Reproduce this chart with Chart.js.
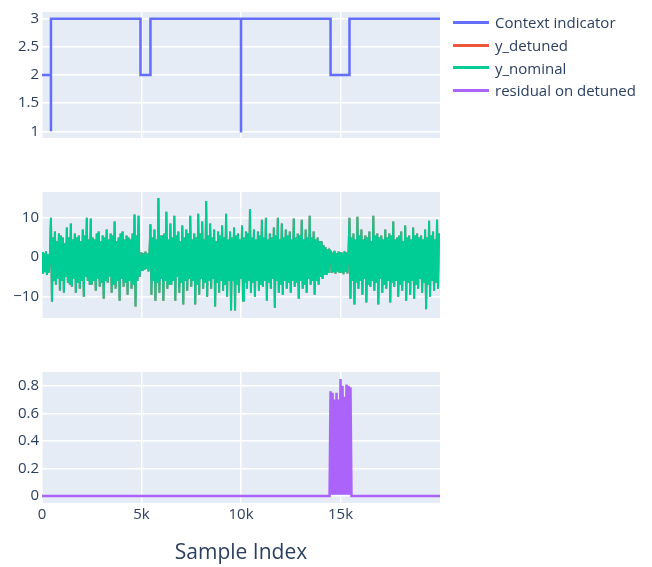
<!DOCTYPE html>
<html>
<head>
<meta charset="utf-8">
<script src="https://cdn.jsdelivr.net/npm/chart.js@4"></script>
<style>
  body { margin: 0; background: #fff; width: 652px; height: 567px; overflow: hidden; font-family: "Open Sans", sans-serif; }
  .panel { position: absolute; left: 0; }
  #legend { position: absolute; left: 453px; top: 11px; color: #2a3f5f; font-size: 15px; }
  .item { display: flex; align-items: center; height: 22.7px; }
  .swatch { width: 36px; height: 3px; margin-right: 6px; }
</style>
</head>
<body>
<canvas id="ctxChart" class="panel" style="top:0px" width="652" height="150"></canvas>
<canvas id="ychart" class="panel" style="top:180px" width="652" height="150"></canvas>
<canvas id="resChart" class="panel" style="top:360px" width="652" height="207"></canvas>
<div id="legend"></div>
<script>
// series names and colours
const seriesNames = ["Context indicator", "y_detuned", "y_nominal", "residual on detuned"];
const seriesColors = ["#636EFA", "#EF553B", "#00CC96", "#AB63FA"];

// x axis (sample index)
const xTicks = [0, 5000, 10000, 15000];
const xTickLabels = ["0", "5k", "10k", "15k"];
const xMax = 19999;

// context indicator, read at its change points
const contextX = [0, 449, 450, 451, 4949, 4950, 5449, 5450, 9999, 10000, 10001, 14499, 14500, 15449, 15450, 19999];
const contextY = [2, 2, 1, 3, 3, 2, 2, 3, 3, 1, 3, 3, 2, 2, 3, 3];
const contextTicks = [1, 1.5, 2, 2.5, 3];
const contextTickLabels = ["1", "1.5", "2", "2.5", "3"];

// y_nominal envelope, one value every 50 samples (peaks and troughs)
const nominalStep = 50;
const nominalY = [
  // 0 - 449 (quiet)
  1.3, -4.2, 1.0, -3.8, 1.5, -4.5, 0.8, -4.0, 1.2,
  // 450 - 4949
  10, -11.3, 5, -6, 6.5, -7, 4, -5.5, 6, -8.5,
  5.5, -6, 5, -9, 3.5, -5, 7.5, -6.5, 5, -7,
  8.5, -7.5, 4.5, -5.5, 6, -9, 5, -6.5, 5.5, -8,
  4, -6, 7, -10, 5.5, -5, 10, -6, 4.5, -7,
  9.8, -7, 5, -6, 4.5, -8.5, 6, -5.5, 6.5, -7.5,
  4, -6.5, 5.5, -10.5, 5, -6, 7, -6.5, 4.5, -5,
  6, -9, 5.5, -7, 9, -8, 4, -6, 5, -11,
  6, -5.5, 6.5, -7.5, 4.5, -6.5, 5.5, -9.5, 5, -6,
  4.5, -8, 6, -7, 10.8, -12.5, 5.5, -6, 10.5, -5,
  // 4950 - 5449 (quiet)
  -2.8, 1.2, -3.5, 1.0, -3.2, 1.4, -3.0, 0.9, -3.6, 1.1,
  // 5450 - 14499
  8.3, -9.5, 5, -6, 7, -11, 4.5, -6.5, 15, -9, 5.5, -5.5, 5.5, -11, 6, -6, 11.5, -8, 4.5, -7,
  8.5, -7, 5, -6, 10.5, -11, 5.5, -5, 6.5, -9, 4, -6.5, 8, -12, 5, -6, 7, -8.5, 6, -5.5,
  10.5, -7.5, 4.5, -6, 6, -12, 5, -7, 11, -9.5, 6, -5.5, 9, -8, 4.5, -6.5, 14.2, -10, 5.5, -6,
  8.5, -8, 5, -5.5, 7, -12.5, 4, -6.5, 6.5, -9, 5.5, -6, 8, -8.5, 5, -7, 11, -10, 4.5, -6,
  6.5, -13.5, 5, -6, 7.5, -13.5, 5.5, -7, 6, -9, 4.5, -5.5, 8, -11, 5, -6.5, 6.5, -8, 6, -6,
  12.2, -9, 5, -6.5, 7, -10, 4.5, -6, 6.5, -8.5, 5.5, -7, 9.5, -7.5, 5, -6, 10, -11, 4.5, -6.5,
  6, -8, 5, -5.5, 7.5, -12.8, 5.5, -6, 10, -9, 4.5, -7, 8.5, -9.5, 5, -6, 7, -8, 5.5, -6.5,
  6.5, -9, 4.5, -6, 9.8, -7.5, 5, -6.5, 6, -10.5, 5.5, -6, 9.5, -8, 4.5, -7, 7, -9, 5, -5.5,
  10.5, -7, 5, -6, 6.5, -9.5, 4.5, -6, 5, -7, 4, -5, 4, -5.5, 3, -4.5, 2.5, -4.5, 2, -4,
  1.8,
  // 14500 - 15449 (quiet)
  1.5, -4, 1.2, -3.8, 1.6, -4.2, 1.0, -3.6, 1.4, -4.0, 1.3, -3.9, 1.1, -4.3, 1.5, -3.7, 1.2, -4.1, 1.4,
  // 15450 - 19999
  10, -10.5, 5, -6, 6, -12, 4.5, -6.5, 10.2, -8, 5.5, -6, 7, -9.5, 4.5, -5.5, 5.5, -11.5, 5, -7,
  6.5, -7.5, 4, -6, 10.5, -8.5, 5.5, -6.5, 6, -12, 5, -5.5, 5.5, -9, 4.5, -7, 7, -8, 5, -6,
  6, -11.5, 5.5, -6.5, 9, -7.5, 4.5, -6, 5, -10, 5.5, -7, 6.5, -8.5, 4, -6, 8, -11, 5, -6.5,
  5.5, -9.5, 4.5, -6, 7.5, -10.5, 5.5, -7, 6, -8, 5, -5.5, 5.5, -9, 4.5, -6.5, 7, -13.2, 5, -7,
  9.2, -10, 5.5, -6, 6.5, -8.5, 4.5, -6.5, 9.5, -8, 6
];
// y_detuned is hidden under y_nominal in the picture
const detunedY = nominalY;
const signalTicks = [-10, 0, 10];
const signalTickLabels = ["\u221210", "0", "10"];

// residual on detuned
const residualX = [0, 14450, 14500, 14550, 14600, 14650, 14700, 14750, 14800, 14850, 14900, 14950, 15000,
  15050, 15100, 15150, 15200, 15250, 15300, 15350, 15400, 15450, 15500, 15550, 19999];
const residualY = [0, 0, 0.76, 0.01, 0.75, 0.01, 0.70, 0.01, 0.75, 0.01, 0.70, 0.01, 0.85,
  0.01, 0.80, 0.01, 0.72, 0.01, 0.81, 0.01, 0.80, 0.01, 0.79, 0, 0];
const residualTicks = [0, 0.2, 0.4, 0.6, 0.8];
const residualTickLabels = ["0", "0.2", "0.4", "0.6", "0.8"];

const tickColor = "#2a3f5f";
const tickFont = { family: "Open Sans", size: 15 };

// paint plot background
const bgPlugin = {
  id: "plotBg",
  beforeDraw(chart) {
    const a = chart.chartArea;
    chart.ctx.save();
    chart.ctx.fillStyle = "#E5ECF6";
    chart.ctx.fillRect(a.left, a.top, a.right - a.left, a.bottom - a.top);
    chart.ctx.restore();
  }
};

function toPoints(xs, ys) {
  const pts = [];
  for (let i = 0; i < ys.length; i++) pts.push({ x: xs[i], y: ys[i] });
  return pts;
}

function lineSet(idx, pts, order, width) {
  return {
    label: seriesNames[idx],
    data: pts,
    borderColor: seriesColors[idx],
    borderWidth: width || 2,
    pointRadius: 0,
    tension: 0,
    order: order || 0
  };
}

function makeChart(id, datasets, yMin, yMax, yTicks, yLabels, padding, bottomAxis) {
  new Chart(document.getElementById(id), {
    type: "line",
    data: { datasets: datasets },
    plugins: [bgPlugin],
    options: {
      responsive: false,
      animation: false,
      devicePixelRatio: 1,
      layout: { padding: padding },
      plugins: { legend: { display: false }, tooltip: { enabled: false } },
      scales: {
        x: {
          type: "linear",
          min: 0,
          max: xMax,
          border: { display: false },
          grid: { color: "#ffffff", lineWidth: 1.5, drawTicks: false },
          afterBuildTicks: (s) => { s.ticks = xTicks.map(v => ({ value: v })); },
          afterFit: (s) => { s.height = bottomAxis ? 64 : 0; },
          ticks: {
            display: !!bottomAxis,
            color: tickColor,
            font: tickFont,
            padding: 3,
            maxRotation: 0,
            callback: (v, i) => xTickLabels[i]
          },
          title: {
            display: !!bottomAxis,
            text: "Sample Index",
            color: tickColor,
            font: { family: "Open Sans", size: 21 },
            padding: { top: 0, bottom: 1 }
          }
        },
        y: {
          min: yMin,
          max: yMax,
          border: { display: false },
          grid: { color: "#ffffff", lineWidth: 1.5, drawTicks: false },
          afterBuildTicks: (s) => { s.ticks = yTicks.map(v => ({ value: v })); },
          afterFit: (s) => { s.width = 42; },
          ticks: {
            color: tickColor,
            font: tickFont,
            padding: 3,
            callback: (v, i) => yLabels[i]
          }
        }
      }
    }
  });
}

// top: context indicator
makeChart("ctxChart",
  [lineSet(0, toPoints(contextX, contextY), 0, 2.5)],
  0.882, 3.118, contextTicks, contextTickLabels,
  { top: 5, bottom: 12, left: 0, right: 212 }, false);

// middle: signals
const nominalX = nominalY.map((v, i) => i * nominalStep);
makeChart("ychart",
  [lineSet(2, toPoints(nominalX, nominalY), 0), lineSet(1, toPoints(nominalX, detunedY), 1)],
  -15.4, 16.5, signalTicks, signalTickLabels,
  { top: 8, bottom: 9, left: 0, right: 212 }, false);

// bottom: residual
makeChart("resChart",
  [lineSet(3, toPoints(residualX, residualY), 0, 2.5)],
  -0.05, 0.9, residualTicks, residualTickLabels,
  { top: 10, bottom: 0, left: 0, right: 212 }, true);

// legend
const legend = document.getElementById("legend");
for (let i = 0; i < seriesNames.length; i++) {
  const row = document.createElement("div");
  row.className = "item";
  const sw = document.createElement("div");
  sw.className = "swatch";
  sw.style.background = seriesColors[i];
  const txt = document.createElement("span");
  txt.textContent = seriesNames[i];
  row.appendChild(sw);
  row.appendChild(txt);
  legend.appendChild(row);
}
</script>
</body>
</html>
